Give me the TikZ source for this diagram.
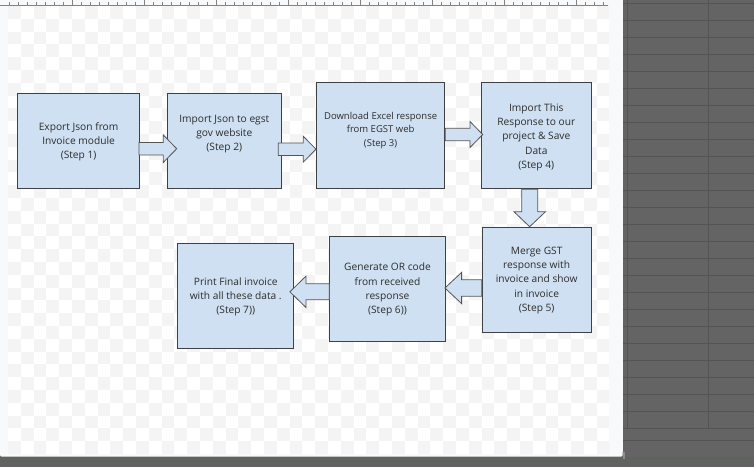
\documentclass[tikz,border=0pt]{standalone}
\usepackage{fontspec}
\setmainfont{Open Sans}
\usetikzlibrary{calc}
\definecolor{darkbg}{RGB}{100,100,100}
\definecolor{darkbot}{RGB}{96,98,96}
\definecolor{gridln}{RGB}{84,84,84}
\definecolor{panel}{RGB}{248,249,251}
\definecolor{chk}{RGB}{244,244,244}
\definecolor{rulerln}{RGB}{130,130,130}
\definecolor{boxfill}{RGB}{206,224,242}
\definecolor{boxline}{RGB}{64,64,64}
\definecolor{arrline}{RGB}{85,85,85}
\definecolor{txt}{RGB}{45,45,45}
\tikzset{
  flowbox/.style={draw=boxline, line width=0.9pt, fill=boxfill, inner sep=0pt, anchor=north west},
  boxtext/.style={text=txt, align=center, font=\fontsize{10.2}{14.3}\selectfont, inner sep=0pt},
  smalltext/.style={boxtext, font=\fontsize{9.5}{13.7}\selectfont},
  barrow/.style={draw=arrline, line width=0.8pt, fill=boxfill, line join=miter},
}
\newcommand\blockarrow[5]{%
  \path ($(#2)!#5!(#1)$) coordinate (tmpb);
  \draw[barrow] ($(#1)!#3!90:(#2)$) -- ($(tmpb)!#3!90:(#2)$) -- ($(tmpb)!#4!90:(#2)$) -- (#2)
    -- ($(tmpb)!#4!-90:(#2)$) -- ($(tmpb)!#3!-90:(#2)$) -- ($(#1)!#3!-90:(#2)$) -- cycle;}
\begin{document}
\begin{tikzpicture}[x=1pt,y=-1pt]
\useasboundingbox (0,0) rectangle (754,467);
% dark surroundings
\fill[darkbg] (0,0) rectangle (754,467);
\fill[darkbot] (0,457) rectangle (754,467);
\foreach \k in {0,...,25} \draw[gridln, line width=0.8pt] (622,3.3+17*\k) -- (754,3.3+17*\k);
\draw[gridln, line width=0.8pt] (622,440) -- (754,440);
\draw[gridln, line width=0.8pt] (627.7,0) -- (627.7,428.3);
\draw[gridln, line width=0.8pt] (708.3,0) -- (708.3,428.3);
% page panel
\fill[black!45] (623,452) rectangle (625,458.5);
\fill[panel, rounded corners=2pt] (0,-5) rectangle (622.7,456.7);
\fill[panel] (0,0) rectangle (622.7,452);
% checkerboard
\fill[white] (8,6) rectangle (609,454);
\begin{scope}
\clip (8,6) rectangle (609,454);
\foreach \i in {0,...,46} {
  \foreach \j in {0,...,34} {
    \pgfmathparse{int(mod(\i+\j,2))}
    \ifnum\pgfmathresult=0
      \fill[chk] (8+12.8*\i,6+12.8*\j) rectangle ++(12.8,12.8);
    \fi
  }
}
\end{scope}
% ruler
\fill[panel] (0,0) rectangle (622.7,5.3);
\draw[rulerln, line width=0.8pt] (0,5.3) -- (608,5.3);
\foreach \k in {0,...,66} {
  \pgfmathsetmacro\tx{9.3+9*\k}
  \pgfmathparse{int(mod(\k+1,8))}
  \ifnum\pgfmathresult=0
    \draw[rulerln, line width=0.8pt] (\tx,0) -- (\tx,5.3);
  \else
    \draw[rulerln, line width=0.8pt] (\tx,2.2) -- (\tx,5.3);
  \fi
}
% boxes
\node[flowbox, minimum width=121.7pt, minimum height=95.6pt] (b1) at (17.3,92.7) {};
\node[flowbox, minimum width=114.3pt, minimum height=95.6pt] (b2) at (166.7,92.7) {};
\node[flowbox, minimum width=128.3pt, minimum height=106pt] (b3) at (316,82.3) {};
\node[flowbox, minimum width=109.7pt, minimum height=106pt] (b4) at (481,82.3) {};
\node[flowbox, minimum width=109pt, minimum height=105.6pt] (b5) at (481.7,226.7) {};
\node[flowbox, minimum width=115.4pt, minimum height=105.3pt] (b6) at (329.3,235.7) {};
\node[flowbox, minimum width=116pt, minimum height=105.6pt] (b7) at (177.3,242.7) {};
% texts
\node[boxtext] (t1) at ($(b1.center)+(0,1)$) {Export Json from\\Invoice module\\(Step 1)};
\node[boxtext] (t2) at ($(b2.center)+(0,-7)$) {Import Json to egst\\gov website\\(Step 2)};
\node[smalltext] (t3) at ($(b3.center)+(0,-5.5)$) {Download Excel response\\from EGST web\\(Step 3)};
\node[boxtext] (t4) at ($(b4.center)+(0,1.5)$) {Import This\\Response to our\\project \& Save\\Data\\(Step 4)};
\node[boxtext] (t5) at ($(b5.center)+(0,0.5)$) {Merge GST\\response with\\invoice and show\\in invoice\\(Step 5)};
\node[boxtext] (t6) at ($(b6.center)+(0,0.8)$) {Generate OR code\\from received\\response\\(Step 6))};
\node[boxtext] (t7) at ($(b7.center)+(0,0.8)$) {Print Final invoice\\with all these data .\\(Step 7))};
% arrow end points
\coordinate (s12) at ($(b1.east |- 0,148.7)+(-1,0)$);
\coordinate (e12) at ($(b2.west |- 0,148.7)+(10,0)$);
\coordinate (s23) at ($(b2.east |- 0,149.2)+(-3.7,0)$);
\coordinate (e23) at ($(b3.west |- 0,149.2)$);
\coordinate (s34) at ($(b3.east |- 0,134.5)$);
\coordinate (e34) at ($(b4.west |- 0,134.5)+(1.7,0)$);
\coordinate (s45) at ($(b4.south -| 529.7,0)$);
\coordinate (e45) at ($(b5.north -| 529.7,0)$);
\coordinate (s56) at ($(b5.west |- 0,288)$);
\coordinate (e56) at ($(b6.east |- 0,288)+(-0.7,0)$);
\coordinate (s67) at ($(b6.west |- 0,291.8)$);
\coordinate (e67) at ($(b7.east |- 0,291.8)+(-4.3,0)$);
% block arrows
\blockarrow{s12}{e12}{6.3pt}{13.7pt}{13.4pt}
\blockarrow{s23}{e23}{6.2pt}{12.9pt}{12.7pt}
\blockarrow{s34}{e34}{6.2pt}{13pt}{12.7pt}
\blockarrow{s45}{e45}{8pt}{15.8pt}{15pt}
\blockarrow{s56}{e56}{8.2pt}{15.6pt}{16.7pt}
\blockarrow{s67}{e67}{8pt}{15.6pt}{16pt}
\end{tikzpicture}
\end{document}
